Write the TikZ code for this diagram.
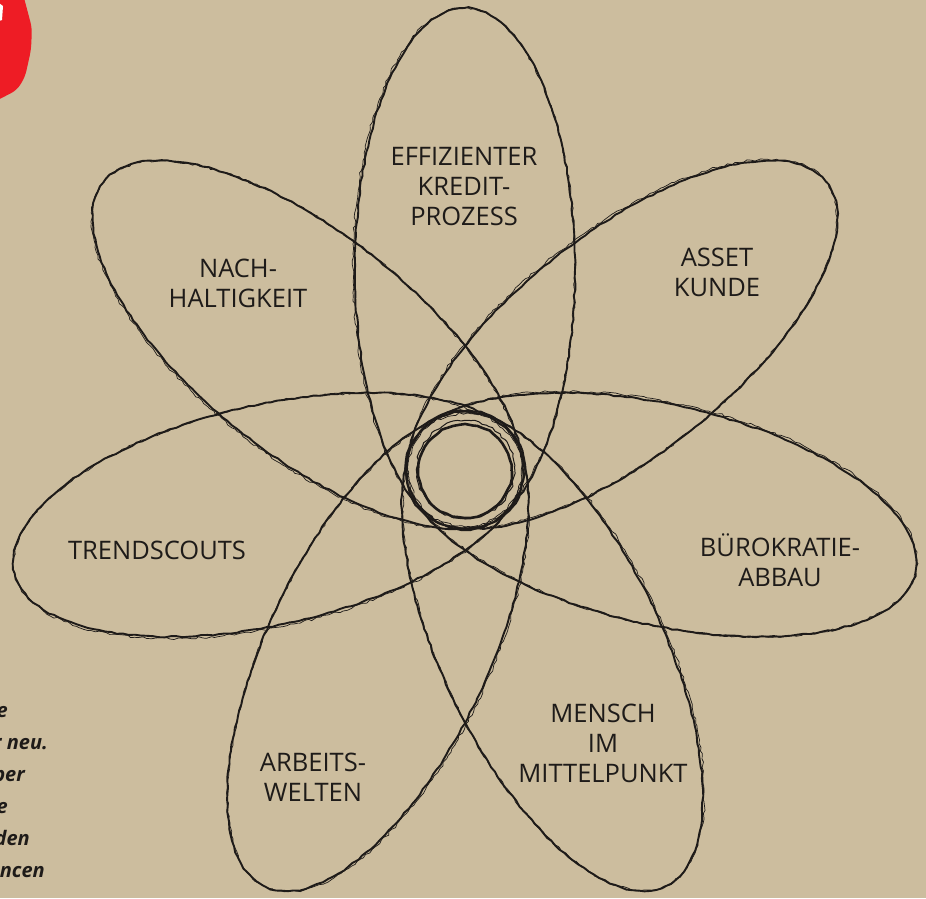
\documentclass[tikz,border=0pt]{standalone}
\usepackage{fontspec}
\setmainfont{Open Sans}
\usetikzlibrary{decorations.pathmorphing}
\definecolor{paper}{HTML}{CCBD9E}
\definecolor{ink}{HTML}{1E1B19}
\definecolor{logoRed}{HTML}{EE1C25}
\begin{document}
\begin{tikzpicture}[x=1pt,y=1pt,
  petal/.style={draw=ink,line width=1.9pt,decorate,
    decoration={random steps,segment length=6pt,amplitude=0.7pt}},
  petalthin/.style={draw=ink,line width=0.7pt,decorate,
    decoration={random steps,segment length=4pt,amplitude=1.2pt}},
  petaltext/.style={text=ink,align=center,font=\fontsize{25.5}{30}\selectfont},
  sidetext/.style={text=ink,anchor=base east,inner sep=0pt,
    font=\fontsize{20}{24}\selectfont\bfseries\itshape}
]
\pgfmathsetseed{7}
\fill[paper] (0,0) rectangle (926,-898);
\useasboundingbox (0,0) rectangle (926,-898);
\clip (0,0) rectangle (926,-898);

% logo corner
\fill[logoRed,rounded corners=6pt] (-6,6) -- (23,6) -- (32,-28) -- (31,-50)
  -- (25,-77) -- (17,-90) -- (-6,-102) -- cycle;
\fill[white] (-1,-3) -- (3,-6) -- (2,-20) -- (-1,-21) -- cycle;

% seven petals round the hub
\coordinate (hub) at (465,-470);
\foreach \k in {0,...,6}{
  \pgfmathsetmacro\ang{90-\k*360/7}
  \draw[petal,shift={(hub)},rotate=\ang] (201,0) ellipse [x radius=261,y radius=110];
  \draw[petalthin,shift={(hub)},rotate=\ang] (202,1) ellipse [x radius=260,y radius=111];
}
\draw[petal,line width=2.6pt] (hub) ++(0,-1) circle [radius=46.5];
\draw[petalthin,line width=1pt] (hub) ++(0.5,0.5) circle [radius=49];

% petal labels
\node[petaltext] (kredit) at (464,-187) {EFFIZIENTER\\KREDIT-\\PROZESS};
\node[petaltext] (asset) at (717,-272) {ASSET\\KUNDE};
\node[petaltext] (buero) at (780,-560) {BÜROKRATIE-\\ABBAU};
\node[petaltext] (mensch) at (603,-743) {MENSCH\\IM\\MITTELPUNKT};
\node[petaltext] (arbeit) at (313,-777) {ARBEITS-\\WELTEN};
\node[petaltext] (trend) at (157,-550) {TRENDSCOUTS};
\node[petaltext] (nach) at (238,-283) {NACH-\\HALTIGKEIT};

% cut-off side text
\foreach \txt/\xe/\yb [count=\i] in {e/8/-717,r neu./48/-749,ber/25/-781,
    e/8/-813,den/30/-845,ncen/45/-877}
  \node[sidetext] (side\i) at (\xe,\yb) {\txt};
\end{tikzpicture}
\end{document}
